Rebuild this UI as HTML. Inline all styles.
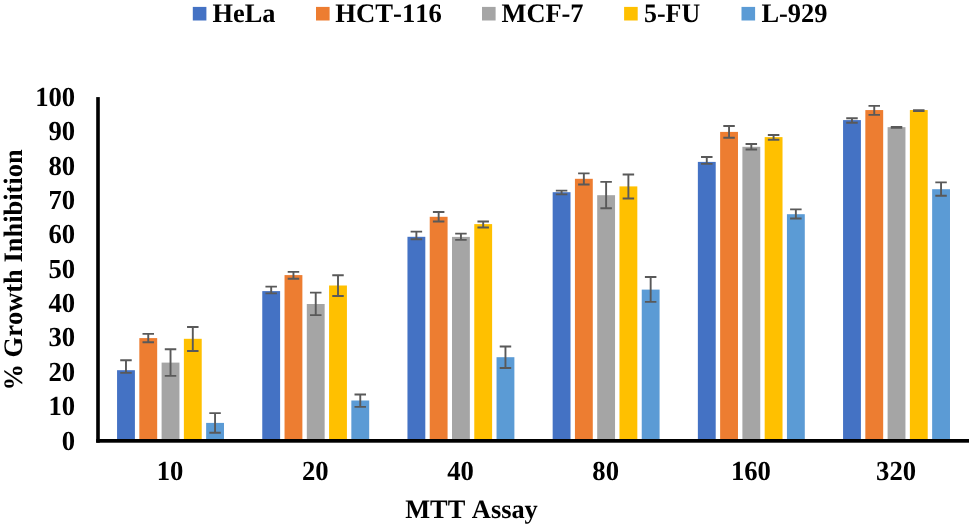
<!DOCTYPE html>
<html lang="en"><head><meta charset="utf-8"><title>MTT Assay</title>
<style>
html,body{margin:0;padding:0;background:#fff;}
body{width:969px;height:527px;overflow:hidden;}
svg{display:block;will-change:transform}
text{font-family:"Liberation Serif","Times New Roman",serif;font-weight:bold;fill:#000;font-kerning:none;font-variant-ligatures:none;text-rendering:geometricPrecision}
</style></head><body>
<svg width="969" height="527" viewBox="0 0 969 527">
<rect width="969" height="527" fill="#fff"/>
<g id="bars">
<rect x="117.06" y="370.20" width="17.85" height="69.80" fill="#4472C4"/>
<rect x="139.33" y="338.10" width="17.85" height="101.90" fill="#ED7D31"/>
<rect x="161.60" y="362.60" width="17.85" height="77.40" fill="#A5A5A5"/>
<rect x="183.87" y="338.80" width="17.85" height="101.20" fill="#FFC000"/>
<rect x="206.14" y="422.90" width="17.85" height="17.10" fill="#5B9BD5"/>
<rect x="262.26" y="291.10" width="17.85" height="148.90" fill="#4472C4"/>
<rect x="284.53" y="275.10" width="17.85" height="164.90" fill="#ED7D31"/>
<rect x="306.80" y="304.00" width="17.85" height="136.00" fill="#A5A5A5"/>
<rect x="329.07" y="285.50" width="17.85" height="154.50" fill="#FFC000"/>
<rect x="351.34" y="400.50" width="17.85" height="39.50" fill="#5B9BD5"/>
<rect x="407.46" y="236.80" width="17.85" height="203.20" fill="#4472C4"/>
<rect x="429.73" y="216.80" width="17.85" height="223.20" fill="#ED7D31"/>
<rect x="452.00" y="236.90" width="17.85" height="203.10" fill="#A5A5A5"/>
<rect x="474.27" y="224.10" width="17.85" height="215.90" fill="#FFC000"/>
<rect x="496.54" y="357.20" width="17.85" height="82.80" fill="#5B9BD5"/>
<rect x="552.66" y="192.20" width="17.85" height="247.80" fill="#4472C4"/>
<rect x="574.93" y="178.80" width="17.85" height="261.20" fill="#ED7D31"/>
<rect x="597.20" y="195.20" width="17.85" height="244.80" fill="#A5A5A5"/>
<rect x="619.47" y="186.40" width="17.85" height="253.60" fill="#FFC000"/>
<rect x="641.74" y="289.60" width="17.85" height="150.40" fill="#5B9BD5"/>
<rect x="697.86" y="161.90" width="17.85" height="278.10" fill="#4472C4"/>
<rect x="720.13" y="131.90" width="17.85" height="308.10" fill="#ED7D31"/>
<rect x="742.40" y="146.80" width="17.85" height="293.20" fill="#A5A5A5"/>
<rect x="764.67" y="137.10" width="17.85" height="302.90" fill="#FFC000"/>
<rect x="786.94" y="214.20" width="17.85" height="225.80" fill="#5B9BD5"/>
<rect x="843.06" y="120.10" width="17.85" height="319.90" fill="#4472C4"/>
<rect x="865.33" y="110.06" width="17.85" height="329.94" fill="#ED7D31"/>
<rect x="887.60" y="127.15" width="17.85" height="312.85" fill="#A5A5A5"/>
<rect x="909.87" y="110.06" width="17.85" height="329.94" fill="#FFC000"/>
<rect x="932.14" y="189.20" width="17.85" height="250.80" fill="#5B9BD5"/>
</g>
<g id="errorbars" stroke="#595959" stroke-width="1.9" fill="none">
<path d="M125.98 360.20V372.90M120.23 360.20h11.5M120.23 372.90h11.5"/>
<path d="M148.26 333.90V342.30M142.51 333.90h11.5M142.51 342.30h11.5"/>
<path d="M170.53 349.20V375.85M164.78 349.20h11.5M164.78 375.85h11.5"/>
<path d="M192.80 327.06V350.96M187.05 327.06h11.5M187.05 350.96h11.5"/>
<path d="M215.06 413.10V432.80M209.31 413.10h11.5M209.31 432.80h11.5"/>
<path d="M271.19 286.60V293.40M265.44 286.60h11.5M265.44 293.40h11.5"/>
<path d="M293.45 271.90V278.70M287.70 271.90h11.5M287.70 278.70h11.5"/>
<path d="M315.73 292.60V315.10M309.98 292.60h11.5M309.98 315.10h11.5"/>
<path d="M338.00 275.20V296.00M332.25 275.20h11.5M332.25 296.00h11.5"/>
<path d="M360.26 394.50V406.85M354.51 394.50h11.5M354.51 406.85h11.5"/>
<path d="M416.38 231.60V239.30M410.63 231.60h11.5M410.63 239.30h11.5"/>
<path d="M438.65 212.00V221.50M432.90 212.00h11.5M432.90 221.50h11.5"/>
<path d="M460.93 233.60V239.90M455.18 233.60h11.5M455.18 239.90h11.5"/>
<path d="M483.19 221.50V227.50M477.44 221.50h11.5M477.44 227.50h11.5"/>
<path d="M505.46 346.50V368.00M499.71 346.50h11.5M499.71 368.00h11.5"/>
<path d="M561.58 190.60V194.40M555.83 190.60h11.5M555.83 194.40h11.5"/>
<path d="M583.85 173.40V184.50M578.10 173.40h11.5M578.10 184.50h11.5"/>
<path d="M606.12 181.90V208.20M600.37 181.90h11.5M600.37 208.20h11.5"/>
<path d="M628.39 174.50V198.50M622.64 174.50h11.5M622.64 198.50h11.5"/>
<path d="M650.66 277.00V301.85M644.91 277.00h11.5M644.91 301.85h11.5"/>
<path d="M706.78 157.06V163.90M701.03 157.06h11.5M701.03 163.90h11.5"/>
<path d="M729.05 126.00V137.70M723.30 126.00h11.5M723.30 137.70h11.5"/>
<path d="M751.32 144.05V149.50M745.57 144.05h11.5M745.57 149.50h11.5"/>
<path d="M773.59 135.00V139.70M767.84 135.00h11.5M767.84 139.70h11.5"/>
<path d="M795.86 209.40V218.50M790.11 209.40h11.5M790.11 218.50h11.5"/>
<path d="M851.98 118.20V122.80M846.23 118.20h11.5M846.23 122.80h11.5"/>
<path d="M874.25 105.85V114.90M868.50 105.85h11.5M868.50 114.90h11.5"/>
<path d="M896.52 126.90V127.80M890.77 126.90h11.5M890.77 127.80h11.5"/>
<path d="M918.79 110.10V111.00M913.04 110.10h11.5M913.04 111.00h11.5"/>
<path d="M941.06 182.40V195.70M935.31 182.40h11.5M935.31 195.70h11.5"/>
</g>
<rect x="96.2" y="97.1" width="3.6" height="345.60" fill="#000"/>
<rect x="96.2" y="439.0" width="872.8" height="3.7" fill="#000"/>
<g font-size="27.5" text-anchor="end">
<text transform="translate(75.2,450) scale(0.97,1)">0</text>
<text transform="translate(75.2,415) scale(0.97,1)">10</text>
<text transform="translate(75.2,381) scale(0.97,1)">20</text>
<text transform="translate(75.2,346) scale(0.97,1)">30</text>
<text transform="translate(75.2,312) scale(0.97,1)">40</text>
<text transform="translate(75.2,278) scale(0.97,1)">50</text>
<text transform="translate(75.2,243) scale(0.97,1)">60</text>
<text transform="translate(75.2,209) scale(0.97,1)">70</text>
<text transform="translate(75.2,175) scale(0.97,1)">80</text>
<text transform="translate(75.2,140) scale(0.97,1)">90</text>
<text transform="translate(75.2,106) scale(0.97,1)">100</text>
</g>
<g font-size="27.5" text-anchor="middle">
<text transform="translate(170.10,480) scale(0.97,1)">10</text>
<text transform="translate(315.30,480) scale(0.97,1)">20</text>
<text transform="translate(460.50,480) scale(0.97,1)">40</text>
<text transform="translate(605.70,480) scale(0.97,1)">80</text>
<text transform="translate(750.90,480) scale(0.97,1)">160</text>
<text transform="translate(896.10,480) scale(0.97,1)">320</text>
</g>
<text transform="translate(471.5,518) scale(0.989,1)" font-size="26.67" text-anchor="middle">MTT Assay</text>
<text transform="translate(22.3,269.9) rotate(-90) scale(0.9925,1)" font-size="26.67" text-anchor="middle">% Growth Inhibition</text>
<g id="legend" font-size="26.67">
<rect x="192.8" y="6.9" width="13.6" height="13.6" fill="#4472C4"/>
<text transform="translate(212.5,22) scale(0.988,1)">HeLa</text>
<rect x="316.0" y="6.9" width="13.6" height="13.6" fill="#ED7D31"/>
<text transform="translate(335.3,22) scale(1,1)">HCT-116</text>
<rect x="482.0" y="6.9" width="13.6" height="13.6" fill="#A5A5A5"/>
<text transform="translate(501.5,22) scale(0.99,1)">MCF-7</text>
<rect x="624.1" y="6.9" width="13.6" height="13.6" fill="#FFC000"/>
<text transform="translate(644.0,22) scale(0.973,1)">5-FU</text>
<rect x="741.5" y="6.9" width="13.6" height="13.6" fill="#5B9BD5"/>
<text transform="translate(761.4,22) scale(0.992,1)">L-929</text>
</g>
</svg></body></html>
